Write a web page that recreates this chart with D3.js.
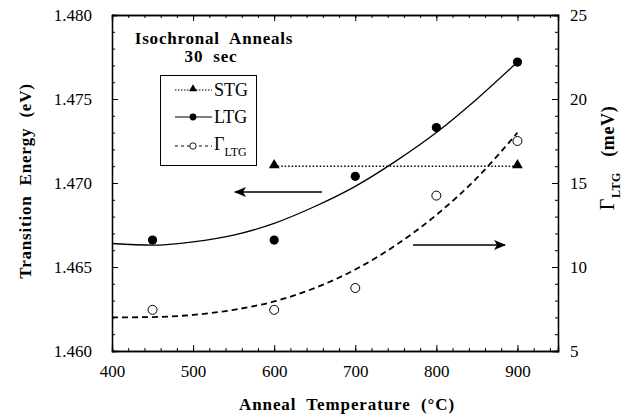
<!DOCTYPE html>
<html>
<head>
<meta charset="utf-8">
<script src="https://cdn.jsdelivr.net/npm/d3@7"></script>
<style>
  body { margin: 0; background: #fff; }
  text { font-family: "Liberation Serif", "Times New Roman", serif; fill: #000; white-space: pre; }
  .axis path, .axis line { stroke: #000; }
  .axis text { font-size: 17px; }
  .bold { font-weight: bold; }
</style>
</head>
<body>
<div id="chart"></div>
<script>
// data
var temps      = [450, 600, 700, 800, 900];          // anneal temperature (C)
var ltgEnergy  = [1.4666, 1.4666, 1.4704, 1.4733, 1.4772]; // LTG transition energy (eV)
var gammaLtg   = [7.45, 7.45, 8.75, 14.25, 17.5];     // LTG linewidth (meV)
var stgTemps   = [600, 900];
var stgEnergy  = [1.4710, 1.4710];                   // STG transition energy (eV)

// fitted curves
var fitTemps   = [400, 450, 500, 550, 600, 650, 700, 750, 800, 850, 900];
var ltgFit     = [1.4664, 1.4663, 1.4665, 1.4669, 1.4676, 1.4686, 1.4698, 1.4713, 1.4730, 1.4750, 1.4772];
var gammaFit   = [7.0, 7.02, 7.15, 7.45, 7.95, 8.75, 9.85, 11.3, 13.1, 15.3, 18.0];

var xTicks     = [400, 500, 600, 700, 800, 900];
var yLeftTicks = [1.460, 1.465, 1.470, 1.475, 1.480];
var yRightTicks = [5, 10, 15, 20, 25];

var W = 644, H = 419;
var margin = {top: 15, right: 86, bottom: 68, left: 112};
var width  = W - margin.left - margin.right;   // plot width
var height = H - margin.top - margin.bottom;   // plot height

var svg = d3.select("#chart").append("svg")
    .attr("width", W)
    .attr("height", H);

var g = svg.append("g")
    .attr("transform", "translate(" + margin.left + "," + margin.top + ")");

var x  = d3.scaleLinear().domain([400, 950]).range([0, width]);
var yL = d3.scaleLinear().domain([1.460, 1.480]).range([height, 0]);
var yR = d3.scaleLinear().domain([5, 25]).range([height, 0]);

var xMinor  = d3.range(400, 951, 20);
var yLMinor = d3.range(0, 21).map(function(i){ return 1.460 + i * 0.001; });
var yRMinor = d3.range(5, 26, 1);

// minor ticks (all four sides, inward)
g.append("g").attr("class", "axis").attr("transform", "translate(0," + height + ")")
    .call(d3.axisBottom(x).tickValues(xMinor).tickSize(-3).tickFormat(""));
g.append("g").attr("class", "axis")
    .call(d3.axisTop(x).tickValues(xMinor).tickSize(-3).tickFormat(""));
g.append("g").attr("class", "axis")
    .call(d3.axisLeft(yL).tickValues(yLMinor).tickSize(-3).tickFormat(""));
g.append("g").attr("class", "axis").attr("transform", "translate(" + width + ",0)")
    .call(d3.axisRight(yR).tickValues(yRMinor).tickSize(-3).tickFormat(""));

// major ticks + labels
g.append("g").attr("class", "axis").attr("transform", "translate(0," + height + ")")
    .call(d3.axisBottom(x).tickValues(xTicks).tickSize(-6).tickPadding(14).tickFormat(d3.format("d")));
g.append("g").attr("class", "axis")
    .call(d3.axisTop(x).tickValues(xTicks).tickSize(-6).tickFormat(""));
g.append("g").attr("class", "axis")
    .call(d3.axisLeft(yL).tickValues(yLeftTicks).tickSize(-6).tickPadding(20).tickFormat(d3.format(".3f")));
g.append("g").attr("class", "axis").attr("transform", "translate(" + width + ",0)")
    .call(d3.axisRight(yR).tickValues(yRightTicks).tickSize(-6).tickPadding(12).tickFormat(d3.format("d")));

g.selectAll(".axis path").attr("stroke-width", 1.3);

// fitted curves
var ltgLine = d3.line()
    .x(function(d, i){ return x(fitTemps[i]); })
    .y(function(d){ return yL(d); })
    .curve(d3.curveMonotoneX);
var gammaLine = d3.line()
    .x(function(d, i){ return x(fitTemps[i]); })
    .y(function(d){ return yR(d); })
    .curve(d3.curveMonotoneX);

g.append("path").datum(ltgFit)
    .attr("d", ltgLine)
    .attr("fill", "none").attr("stroke", "#000").attr("stroke-width", 1.3);

g.append("path").datum(gammaFit)
    .attr("d", gammaLine)
    .attr("fill", "none").attr("stroke", "#000").attr("stroke-width", 1.8)
    .attr("stroke-dasharray", "6,4");

// STG dotted line
g.append("path").datum(stgEnergy)
    .attr("d", d3.line()
        .x(function(d, i){ return x(stgTemps[i]); })
        .y(function(d){ return yL(d); }))
    .attr("fill", "none").attr("stroke", "#000").attr("stroke-width", 1.6)
    .attr("stroke-dasharray", "1.5,2");

// markers
var tri = d3.symbol().type(d3.symbolTriangle).size(50);
g.selectAll(".stg").data(stgEnergy).enter().append("path")
    .attr("class", "stg")
    .attr("d", tri)
    .attr("transform", function(d, i){ return "translate(" + x(stgTemps[i]) + "," + (yL(d) - 1) + ")"; })
    .attr("fill", "#000");

g.selectAll(".ltg").data(ltgEnergy).enter().append("circle")
    .attr("class", "ltg")
    .attr("cx", function(d, i){ return x(temps[i]); })
    .attr("cy", function(d){ return yL(d); })
    .attr("r", 4.6)
    .attr("fill", "#000");

g.selectAll(".gam").data(gammaLtg).enter().append("circle")
    .attr("class", "gam")
    .attr("cx", function(d, i){ return x(temps[i]); })
    .attr("cy", function(d){ return yR(d); })
    .attr("r", 4.5)
    .attr("fill", "#fff").attr("stroke", "#000").attr("stroke-width", 1);

// arrows
var defs = svg.append("defs");
defs.append("marker")
    .attr("id", "head")
    .attr("viewBox", "0 0 12 10")
    .attr("refX", 11).attr("refY", 5)
    .attr("markerWidth", 12).attr("markerHeight", 10)
    .attr("markerUnits", "userSpaceOnUse")
    .attr("orient", "auto")
  .append("path")
    .attr("d", "M0,0 L12,5 L0,10 L3,5 Z")
    .attr("fill", "#000");

svg.append("line")
    .attr("x1", 322).attr("y1", 192).attr("x2", 235).attr("y2", 192)
    .attr("stroke", "#000").attr("stroke-width", 1.6)
    .attr("marker-end", "url(#head)");
svg.append("line")
    .attr("x1", 413).attr("y1", 245).attr("x2", 505).attr("y2", 245)
    .attr("stroke", "#000").attr("stroke-width", 1.3)
    .attr("marker-end", "url(#head)");

// title inside plot
svg.append("text").attr("class", "bold")
    .attr("x", 214).attr("y", 44)
    .attr("text-anchor", "middle").style("font-size", "17px").style("letter-spacing", "0.8px")
    .text("Isochronal  Anneals");
svg.append("text").attr("class", "bold")
    .attr("x", 211).attr("y", 62)
    .attr("text-anchor", "middle").style("font-size", "17px").style("letter-spacing", "0.8px")
    .text("30  sec");

// legend
var leg = svg.append("g");
leg.append("rect")
    .attr("x", 160.5).attr("y", 75.5).attr("width", 96).attr("height", 90)
    .attr("fill", "#fff").attr("stroke", "#000").attr("stroke-width", 1);

var legY = [90, 117, 146];
leg.append("line").attr("x1", 175).attr("x2", 212).attr("y1", legY[0]).attr("y2", legY[0])
    .attr("stroke", "#000").attr("stroke-width", 1.2).attr("stroke-dasharray", "1.5,1.5");
leg.append("path").attr("d", d3.symbol().type(d3.symbolTriangle).size(28))
    .attr("transform", "translate(193," + (legY[0] - 1) + ")").attr("fill", "#000");
leg.append("text").attr("x", 214).attr("y", legY[0] + 6).style("font-size", "18px").text("STG");

leg.append("line").attr("x1", 175).attr("x2", 212).attr("y1", legY[1]).attr("y2", legY[1])
    .attr("stroke", "#000").attr("stroke-width", 1.2);
leg.append("circle").attr("cx", 193).attr("cy", legY[1]).attr("r", 3.4).attr("fill", "#000");
leg.append("text").attr("x", 214).attr("y", legY[1] + 6).style("font-size", "18px").text("LTG");

leg.append("line").attr("x1", 175).attr("x2", 212).attr("y1", legY[2]).attr("y2", legY[2])
    .attr("stroke", "#000").attr("stroke-width", 1.2).attr("stroke-dasharray", "3,3");
leg.append("circle").attr("cx", 193).attr("cy", legY[2]).attr("r", 3.2)
    .attr("fill", "#fff").attr("stroke", "#000").attr("stroke-width", 0.9);
var gt = leg.append("text").attr("x", 214).attr("y", legY[2] + 4).style("font-size", "18px");
gt.append("tspan").text("Γ");
gt.append("tspan").attr("dy", 6).style("font-size", "12px").text("LTG");

// axis titles
svg.append("text").attr("class", "bold")
    .attr("transform", "translate(31,181) rotate(-90)")
    .attr("text-anchor", "middle").style("font-size", "17px").style("letter-spacing", "0.8px")
    .text("Transition  Energy  (eV)");

svg.append("text").attr("class", "bold")
    .attr("x", 347).attr("y", 410)
    .attr("text-anchor", "middle").style("font-size", "17px").style("letter-spacing", "0.9px")
    .text("Anneal  Temperature  (°C)");

var rt = svg.append("text").attr("class", "bold")
    .attr("transform", "translate(614,158) rotate(-90)")
    .attr("text-anchor", "middle").style("font-size", "18px").style("letter-spacing", "0.6px");
rt.append("tspan").style("font-weight", "normal").style("font-size", "20px").text("Γ");
rt.append("tspan").attr("dy", 6).style("font-size", "12px").text("LTG");
rt.append("tspan").attr("dy", -6).text("   (meV)");
</script>
</body>
</html>
